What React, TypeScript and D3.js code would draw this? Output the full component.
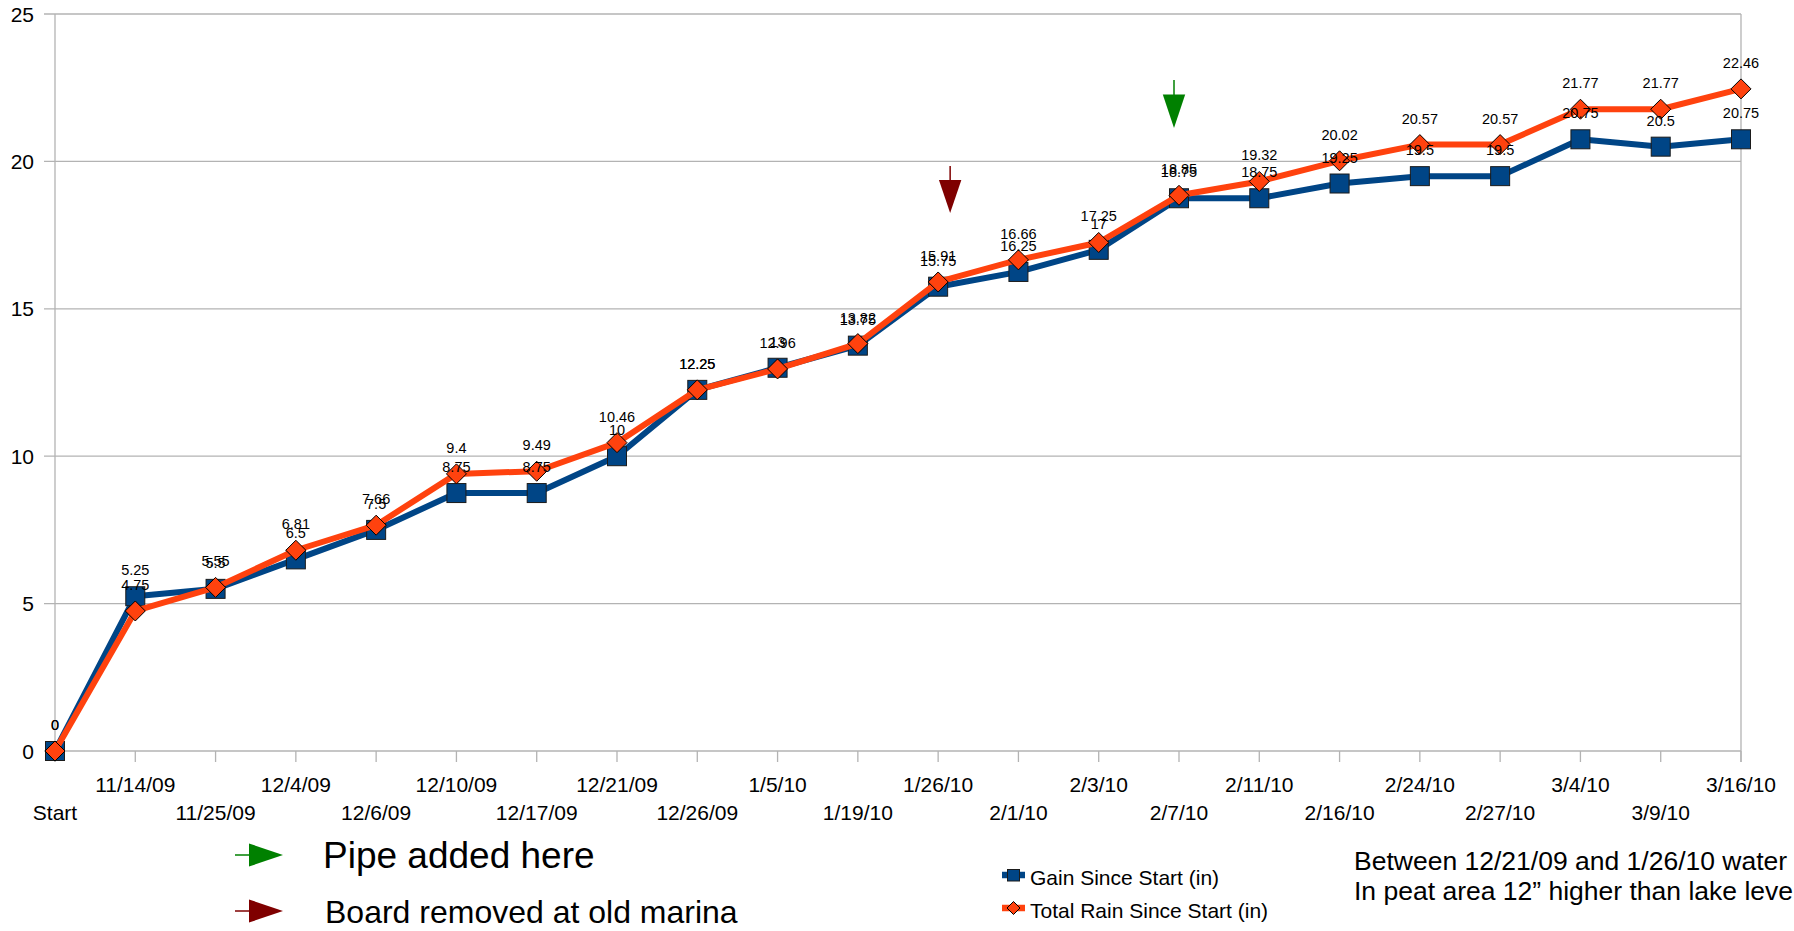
import React from "react";
import * as d3 from "d3";

const categories = [
  "Start", "11/14/09", "11/25/09", "12/4/09", "12/6/09", "12/10/09", "12/17/09",
  "12/21/09", "12/26/09", "1/5/10", "1/19/10", "1/26/10", "2/1/10", "2/3/10",
  "2/7/10", "2/11/10", "2/16/10", "2/24/10", "2/27/10", "3/4/10", "3/9/10", "3/16/10",
];
const gainSinceStart = [
  0, 5.25, 5.5, 6.5, 7.5, 8.75, 8.75, 10, 12.25, 13, 13.75, 15.75, 16.25, 17,
  18.75, 18.75, 19.25, 19.5, 19.5, 20.75, 20.5, 20.75,
];
const totalRain = [
  0, 4.75, 5.55, 6.81, 7.66, 9.4, 9.49, 10.46, 12.25, 12.96, 13.82, 15.91, 16.66,
  17.25, 18.85, 19.32, 20.02, 20.57, 20.57, 21.77, 21.77, 22.46,
];
const yTicks = [0, 5, 10, 15, 20, 25];
const seriesNames = ["Gain Since Start (in)", "Total Rain Since Start (in)"];
const pipeDate = "2/7/10";
const boardDate = "1/26/10";
const noteLines = [
  "Between 12/21/09 and 1/26/10 water",
  "In peat area 12\u201D higher than lake level",
];

const W = 1794;
const H = 931;
const FONT = "'Liberation Sans', Arial, Helvetica, sans-serif";
const BLUE = "#004586";
const ORANGE = "#ff420e";
const GRID = "#b3b3b3";

export default function App() {
  const x = d3.scalePoint<string>().domain(categories).range([55, 1741]);
  const y = d3.scaleLinear().domain([0, 25]).range([751, 14]);

  const lineGen = d3
    .line<number>()
    .x((_, i) => x(categories[i]) as number)
    .y((v) => y(v));

  const diamond = (cx: number, cy: number, r: number) =>
    `M${cx},${cy - r}L${cx + r},${cy}L${cx},${cy + r}L${cx - r},${cy}Z`;

  const arrowDown = (cx: number, top: number, stemEnd: number, tip: number, halfW: number, color: string) => (
    <g>
      <line x1={cx} x2={cx} y1={top} y2={stemEnd + 1} stroke={color} strokeWidth={1.5} />
      <path d={`M${cx - halfW},${stemEnd}L${cx + halfW},${stemEnd}L${cx},${tip}Z`} fill={color} />
    </g>
  );
  const arrowRight = (cy: number, color: string) => (
    <g>
      <line x1={235} x2={250} y1={cy} y2={cy} stroke={color} strokeWidth={1.5} />
      <path d={`M249,${cy - 11.5}L249,${cy + 11.5}L283,${cy}Z`} fill={color} />
    </g>
  );

  const xPipe = (x(pipeDate) as number) - 5;
  const xBoard = (x(boardDate) as number) + 12;

  return (
    <svg
      width={W}
      height={H}
      style={{ position: "absolute", left: 0, top: 0, background: "#fff" }}
      fontFamily={FONT}
    >
      <rect x={0} y={0} width={W} height={H} fill="#fff" />
      {/* grid */}
      {yTicks.map((t) => (
        <g key={t}>
          <line x1={44} x2={1741} y1={y(t)} y2={y(t)} stroke={GRID} strokeWidth={1.3} />
          <text x={34} y={y(t)} textAnchor="end" dominantBaseline="central" fontSize={21} fill="#000">
            {t}
          </text>
        </g>
      ))}
      <line x1={55} x2={55} y1={y(25)} y2={762} stroke={GRID} strokeWidth={1.3} />
      <line x1={1741} x2={1741} y1={y(25)} y2={762} stroke={GRID} strokeWidth={1.3} />
      {categories.map((c, i) => (
        <g key={c}>
          <line x1={x(c)} x2={x(c)} y1={y(0)} y2={762} stroke={GRID} strokeWidth={1.3} />
          <text
            x={x(c)}
            y={i % 2 === 1 ? 792 : 820}
            textAnchor="middle"
            fontSize={21}
            fill="#000"
          >
            {c}
          </text>
        </g>
      ))}

      {/* gain series */}
      <path d={lineGen(gainSinceStart) || ""} fill="none" stroke={BLUE} strokeWidth={6} strokeLinejoin="round" />
      {gainSinceStart.map((v, i) => (
        <rect
          key={i}
          x={(x(categories[i]) as number) - 9.5}
          y={y(v) - 9.5}
          width={19}
          height={19}
          fill={BLUE}
          stroke="#1b1b1b"
          strokeWidth={1}
        />
      ))}
      {/* rain series */}
      <path d={lineGen(totalRain) || ""} fill="none" stroke={ORANGE} strokeWidth={6} strokeLinejoin="round" />
      {totalRain.map((v, i) => (
        <path key={i} d={diamond(x(categories[i]) as number, y(v), 10)} fill={ORANGE} stroke="#000" strokeWidth={1} />
      ))}

      {/* data labels */}
      {gainSinceStart.map((v, i) => (
        <text key={"g" + i} x={x(categories[i])} y={y(v) - 21} textAnchor="middle" fontSize={14.5} fill="#000">
          {String(v)}
        </text>
      ))}
      {totalRain.map((v, i) => (
        <text key={"r" + i} x={x(categories[i])} y={y(v) - 21} textAnchor="middle" fontSize={14.5} fill="#000">
          {String(v)}
        </text>
      ))}

      {/* annotation arrows */}
      {arrowDown(xBoard, 166, 180, 213, 11.2, "#7f0000")}
      {arrowDown(xPipe, 80, 94.5, 128, 11.2, "#008000")}

      {/* annotation legend */}
      {arrowRight(855, "#008000")}
      {arrowRight(911, "#7f0000")}
      <text x={323} y={868} fontSize={37} fill="#000">Pipe added here</text>
      <text x={325} y={923} fontSize={32} fill="#000">Board removed at old marina</text>

      {/* series legend */}
      <line x1={1002} x2={1025} y1={875} y2={875} stroke={BLUE} strokeWidth={6.5} />
      <rect x={1007.5} y={869.5} width={12} height={11.5} fill={BLUE} stroke="#1b1b1b" strokeWidth={1} />
      <text x={1030} y={885} fontSize={21} fill="#000">{seriesNames[0]}</text>
      <line x1={1002} x2={1025} y1={908} y2={908} stroke={ORANGE} strokeWidth={6.5} />
      <path d={diamond(1013.5, 908, 6.5)} fill={ORANGE} stroke="#000" strokeWidth={1} />
      <text x={1030} y={918} fontSize={21} fill="#000">{seriesNames[1]}</text>

      {/* note */}
      {noteLines.map((l, i) => (
        <text key={i} x={1354} y={870 + i * 30} fontSize={26.5} fill="#000">
          {l}
        </text>
      ))}
    </svg>
  );
}
